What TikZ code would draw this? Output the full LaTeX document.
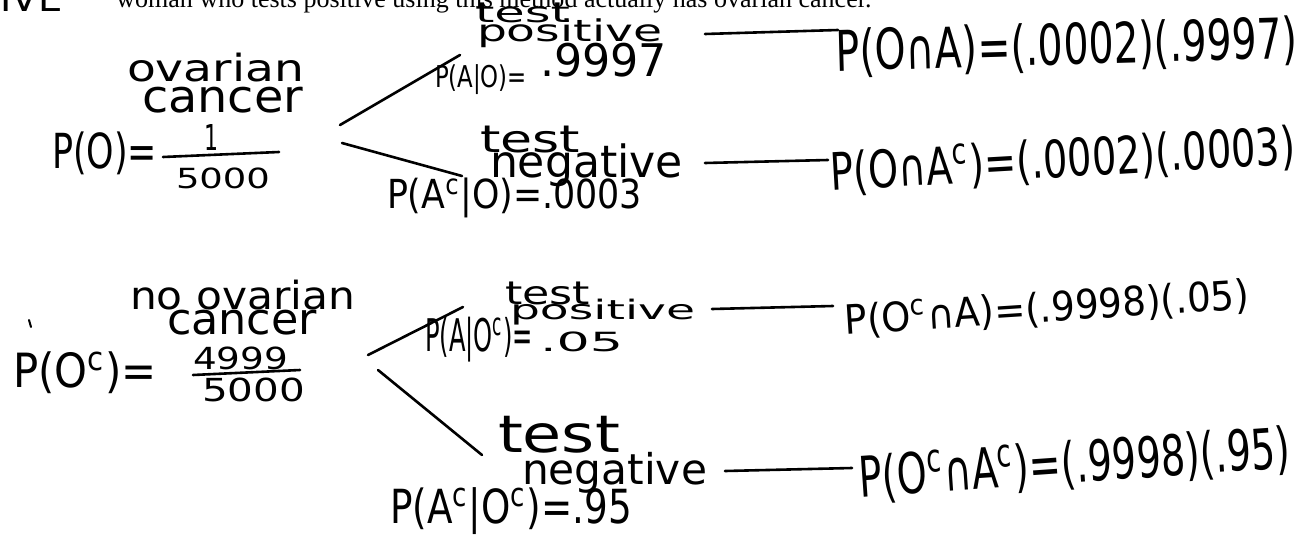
\documentclass[tikz,border=0pt]{standalone}
\usepackage{fontspec}
\setmainfont{DejaVu Sans}
\newfontfamily\hdrfont{Liberation Serif}
\usepackage{graphicx}
\newlength\pxu
\setlength\pxu{0.5pt}
\newcommand\hwbox[3]{\resizebox*{#1\pxu}{#2\pxu}{#3}}
\tikzset{
  hw/.style={inner sep=0pt, outer sep=0pt, anchor=north west},
  rw/.style={inner sep=0pt, outer sep=0pt},
  pen/.style={line width=1.3pt, line cap=round, black}
}
\begin{document}
\begin{tikzpicture}[x=0.5pt,y=-0.5pt]
\useasboundingbox (0,0) rectangle (1309,551);
\clip (0,0) rectangle (1309,551);
\fill[white] (0,0) rectangle (1309,551);

% cropped header
\node[inner sep=0pt, anchor=south west] (hdrA) at (0,12) {\resizebox{62\pxu}{26\pxu}{IVE}};
\node[inner sep=0pt, anchor=base west] (hdrB) at (116,8) {\resizebox{755\pxu}{!}{\hdrfont woman who tests positive using this method actually has ovarian cancer.}};

% ---------- top tree ----------
\node[hw] (ov1) at (127,53) {\hwbox{177}{29}{ovarian}};
\node[hw] (ov2) at (142,87) {\hwbox{161}{26}{cancer}};
\node[hw] (po) at (52,132) {\hwbox{105}{43}{P(O)=}};
\node[hw] (ponum) at (204,124) {\hwbox{14}{26}{1}};
\coordinate (fa) at (163,157);
\coordinate (fb) at (279,152);
\draw[pen] (fa) -- (fb);
\node[hw] (poden) at (176,168) {\hwbox{94}{21}{5000}};

\coordinate (r1u) at (340,125);
\coordinate (r1d) at (342,143);
\coordinate (e1u) at (460,55);
\coordinate (e1d) at (462,176);
\draw[pen] (r1u) -- (e1u);
\draw[pen] (r1d) -- (e1d);

\node[hw] (t1) at (475,3) {\hwbox{95}{20}{test}};
\node[hw] (p1) at (477,19) {\hwbox{185}{29}{positive}};
\node[hw] (pa1) at (435,65) {\hwbox{92}{30}{P(A|O)=}};
\node[hw] (pv1) at (540,43) {\hwbox{127}{34}{.9997}};

\node[hw] (t2) at (480,126) {\hwbox{100}{27}{test}};
\node[hw] (n2) at (490,144) {\hwbox{193}{43}{negative}};
\node[hw] (pa2) at (387,178) {\hwbox{255}{40}{P(A\textsuperscript{c}|O)=.0003}};

\node[rw, rotate=1.6] (j1) at (1067,47) {\hwbox{462}{50}{P(O∩A)=(.0002)(.9997)}};
\node[rw, rotate=3.3] (j2) at (1063,161) {\hwbox{465}{46}{P(O∩A\textsuperscript{c})=(.0002)(.0003)}};

\coordinate (l1a) at (705,34);
\coordinate (l1b) at (838,30);
\draw[pen] (l1a) -- (l1b);
\coordinate (l2a) at (705,163);
\coordinate (l2b) at (828,160);
\draw[pen] (l2a) -- (l2b);

% ---------- bottom tree ----------
\draw[pen, line width=1pt] (29,320) -- (31,327);
\node[hw] (nov1) at (130,280) {\hwbox{225}{30}{no ovarian}};
\node[hw] (nov2) at (167,310) {\hwbox{150}{25}{cancer}};
\node[hw] (poc) at (13,352) {\hwbox{144}{42}{P(O\textsuperscript{c})=}};
\node[hw] (pocnum) at (193,347) {\hwbox{95}{23}{4999}};
\coordinate (fc) at (193,375);
\coordinate (fd) at (300,370);
\draw[pen] (fc) -- (fd);
\node[hw] (pocden) at (202,378) {\hwbox{103}{24}{5000}};

\coordinate (r2u) at (368,355);
\coordinate (r2d) at (378,370);
\coordinate (e2u) at (463,307);
\coordinate (e2d) at (482,455);
\draw[pen] (r2u) -- (e2u);
\draw[pen] (r2d) -- (e2d);

\node[hw] (t3) at (505,282) {\hwbox{85}{23}{test}};
\node[hw] (p3) at (510,299) {\hwbox{185}{26}{positive}};
\node[hw] (pa3) at (425,317) {\hwbox{108}{45}{P(A|O\textsuperscript{c})=}};
\node[hw] (pv3) at (540,332) {\hwbox{83}{20}{.05}};

\node[hw] (t4) at (498,416) {\hwbox{122}{37}{test}};
\node[hw] (n4) at (522,452) {\hwbox{185}{41}{negative}};
\node[hw] (pa4) at (390,488) {\hwbox{242}{47}{P(A\textsuperscript{c}|O\textsuperscript{c})=.95}};

\node[rw, rotate=3.7] (j3) at (1047,309) {\hwbox{405}{36}{P(O\textsuperscript{c}∩A)=(.9998)(.05)}};
\node[rw, rotate=4] (j4) at (1075,465) {\hwbox{432}{50}{P(O\textsuperscript{c}∩A\textsuperscript{c})=(.9998)(.95)}};

\coordinate (l3a) at (712,309);
\coordinate (l3b) at (833,306);
\draw[pen] (l3a) -- (l3b);
\coordinate (l4a) at (725,471);
\coordinate (l4b) at (852,468);
\draw[pen] (l4a) -- (l4b);
\end{tikzpicture}
\end{document}
